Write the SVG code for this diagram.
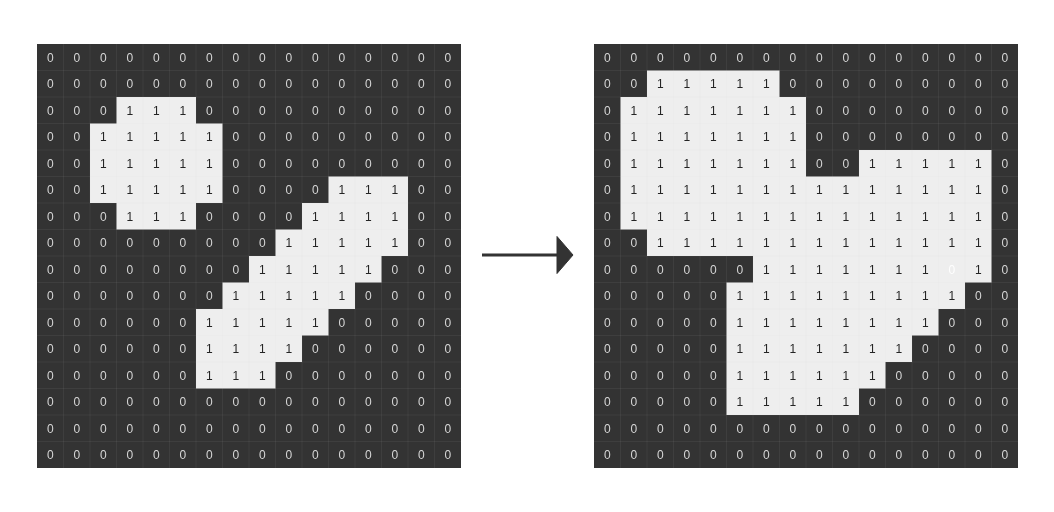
<svg xmlns="http://www.w3.org/2000/svg" width="1054" height="512" viewBox="0 0 1054 512" style="will-change:transform">
<style>
.bg{fill:#333333}
.lt{fill:#eeeeee}
.gl{fill:none;stroke:#d0d0d0;stroke-opacity:0.07;stroke-width:1}
text{font-family:"Liberation Sans",Arial,sans-serif;font-size:12px;text-anchor:middle}
.txt{opacity:0.99}
.z{fill:#d8d8d8}
.o{fill:#222222}
.w{fill:#ffffff}
</style>
<defs>
<path id="lines" class="gl" d="M63.5 44V468M90 44V468M116.5 44V468M143 44V468M169.5 44V468M196 44V468M222.5 44V468M249 44V468M275.5 44V468M302 44V468M328.5 44V468M355 44V468M381.5 44V468M408 44V468M434.5 44V468M37 70.5H461M37 97H461M37 123.5H461M37 150H461M37 176.5H461M37 203H461M37 229.5H461M37 256H461M37 282.5H461M37 309H461M37 335.5H461M37 362H461M37 388.5H461M37 415H461M37 441.5H461"/>
</defs>
<rect width="1054" height="512" fill="#ffffff"/>
<g id="grid-input">
<rect class="bg" x="37" y="44" width="424" height="424"/>
<path class="lt" d="M116.5 97h79.5v26.5h-79.5Z M90 123.5h132.5v26.5h-132.5Z M90 150h132.5v26.5h-132.5Z M90 176.5h132.5v26.5h-132.5Z M328.5 176.5h79.5v26.5h-79.5Z M116.5 203h79.5v26.5h-79.5Z M302 203h106v26.5h-106Z M275.5 229.5h132.5v26.5h-132.5Z M249 256h132.5v26.5h-132.5Z M222.5 282.5h132.5v26.5h-132.5Z M196 309h132.5v26.5h-132.5Z M196 335.5h106v26.5h-106Z M196 362h79.5v26.5h-79.5Z"/>
<use href="#lines"/>
<g class="txt">
<text x="50.25 76.75 103.25 129.75 156.25 182.75 209.25 235.75 262.25 288.75 315.25 341.75 368.25 394.75 421.25 447.75" y="61.5"><tspan class="z">0000000000000000</tspan></text>
<text x="50.25 76.75 103.25 129.75 156.25 182.75 209.25 235.75 262.25 288.75 315.25 341.75 368.25 394.75 421.25 447.75" y="88"><tspan class="z">0000000000000000</tspan></text>
<text x="50.25 76.75 103.25 129.75 156.25 182.75 209.25 235.75 262.25 288.75 315.25 341.75 368.25 394.75 421.25 447.75" y="114.5"><tspan class="z">000</tspan><tspan class="o">111</tspan><tspan class="z">0000000000</tspan></text>
<text x="50.25 76.75 103.25 129.75 156.25 182.75 209.25 235.75 262.25 288.75 315.25 341.75 368.25 394.75 421.25 447.75" y="141"><tspan class="z">00</tspan><tspan class="o">11111</tspan><tspan class="z">000000000</tspan></text>
<text x="50.25 76.75 103.25 129.75 156.25 182.75 209.25 235.75 262.25 288.75 315.25 341.75 368.25 394.75 421.25 447.75" y="167.5"><tspan class="z">00</tspan><tspan class="o">11111</tspan><tspan class="z">000000000</tspan></text>
<text x="50.25 76.75 103.25 129.75 156.25 182.75 209.25 235.75 262.25 288.75 315.25 341.75 368.25 394.75 421.25 447.75" y="194"><tspan class="z">00</tspan><tspan class="o">11111</tspan><tspan class="z">0000</tspan><tspan class="o">111</tspan><tspan class="z">00</tspan></text>
<text x="50.25 76.75 103.25 129.75 156.25 182.75 209.25 235.75 262.25 288.75 315.25 341.75 368.25 394.75 421.25 447.75" y="220.5"><tspan class="z">000</tspan><tspan class="o">111</tspan><tspan class="z">0000</tspan><tspan class="o">1111</tspan><tspan class="z">00</tspan></text>
<text x="50.25 76.75 103.25 129.75 156.25 182.75 209.25 235.75 262.25 288.75 315.25 341.75 368.25 394.75 421.25 447.75" y="247"><tspan class="z">000000000</tspan><tspan class="o">11111</tspan><tspan class="z">00</tspan></text>
<text x="50.25 76.75 103.25 129.75 156.25 182.75 209.25 235.75 262.25 288.75 315.25 341.75 368.25 394.75 421.25 447.75" y="273.5"><tspan class="z">00000000</tspan><tspan class="o">11111</tspan><tspan class="z">000</tspan></text>
<text x="50.25 76.75 103.25 129.75 156.25 182.75 209.25 235.75 262.25 288.75 315.25 341.75 368.25 394.75 421.25 447.75" y="300"><tspan class="z">0000000</tspan><tspan class="o">11111</tspan><tspan class="z">0000</tspan></text>
<text x="50.25 76.75 103.25 129.75 156.25 182.75 209.25 235.75 262.25 288.75 315.25 341.75 368.25 394.75 421.25 447.75" y="326.5"><tspan class="z">000000</tspan><tspan class="o">11111</tspan><tspan class="z">00000</tspan></text>
<text x="50.25 76.75 103.25 129.75 156.25 182.75 209.25 235.75 262.25 288.75 315.25 341.75 368.25 394.75 421.25 447.75" y="353"><tspan class="z">000000</tspan><tspan class="o">1111</tspan><tspan class="z">000000</tspan></text>
<text x="50.25 76.75 103.25 129.75 156.25 182.75 209.25 235.75 262.25 288.75 315.25 341.75 368.25 394.75 421.25 447.75" y="379.5"><tspan class="z">000000</tspan><tspan class="o">111</tspan><tspan class="z">0000000</tspan></text>
<text x="50.25 76.75 103.25 129.75 156.25 182.75 209.25 235.75 262.25 288.75 315.25 341.75 368.25 394.75 421.25 447.75" y="406"><tspan class="z">0000000000000000</tspan></text>
<text x="50.25 76.75 103.25 129.75 156.25 182.75 209.25 235.75 262.25 288.75 315.25 341.75 368.25 394.75 421.25 447.75" y="432.5"><tspan class="z">0000000000000000</tspan></text>
<text x="50.25 76.75 103.25 129.75 156.25 182.75 209.25 235.75 262.25 288.75 315.25 341.75 368.25 394.75 421.25 447.75" y="459"><tspan class="z">0000000000000000</tspan></text>
</g>
</g>
<g id="connectors">
<line x1="482" y1="255" x2="560" y2="255" stroke="#333333" stroke-width="3"/>
<path d="M557 236.5L573 255L557 273.5Z" fill="#333333" stroke="#333333" stroke-width="1" stroke-linejoin="round"/>
</g>
<g id="grid-output" transform="translate(557,0)">
<rect class="bg" x="37" y="44" width="424" height="424"/>
<path class="lt" d="M90 70.5h132.5v26.5h-132.5Z M63.5 97h185.5v26.5h-185.5Z M63.5 123.5h185.5v26.5h-185.5Z M63.5 150h185.5v26.5h-185.5Z M302 150h132.5v26.5h-132.5Z M63.5 176.5h371v26.5h-371Z M63.5 203h371v26.5h-371Z M90 229.5h344.5v26.5h-344.5Z M196 256h238.5v26.5h-238.5Z M169.5 282.5h238.5v26.5h-238.5Z M169.5 309h212v26.5h-212Z M169.5 335.5h185.5v26.5h-185.5Z M169.5 362h159v26.5h-159Z M169.5 388.5h132.5v26.5h-132.5Z"/>
<use href="#lines"/>
<g class="txt">
<text x="50.25 76.75 103.25 129.75 156.25 182.75 209.25 235.75 262.25 288.75 315.25 341.75 368.25 394.75 421.25 447.75" y="61.5"><tspan class="z">0000000000000000</tspan></text>
<text x="50.25 76.75 103.25 129.75 156.25 182.75 209.25 235.75 262.25 288.75 315.25 341.75 368.25 394.75 421.25 447.75" y="88"><tspan class="z">00</tspan><tspan class="o">11111</tspan><tspan class="z">000000000</tspan></text>
<text x="50.25 76.75 103.25 129.75 156.25 182.75 209.25 235.75 262.25 288.75 315.25 341.75 368.25 394.75 421.25 447.75" y="114.5"><tspan class="z">0</tspan><tspan class="o">1111111</tspan><tspan class="z">00000000</tspan></text>
<text x="50.25 76.75 103.25 129.75 156.25 182.75 209.25 235.75 262.25 288.75 315.25 341.75 368.25 394.75 421.25 447.75" y="141"><tspan class="z">0</tspan><tspan class="o">1111111</tspan><tspan class="z">00000000</tspan></text>
<text x="50.25 76.75 103.25 129.75 156.25 182.75 209.25 235.75 262.25 288.75 315.25 341.75 368.25 394.75 421.25 447.75" y="167.5"><tspan class="z">0</tspan><tspan class="o">1111111</tspan><tspan class="z">00</tspan><tspan class="o">11111</tspan><tspan class="z">0</tspan></text>
<text x="50.25 76.75 103.25 129.75 156.25 182.75 209.25 235.75 262.25 288.75 315.25 341.75 368.25 394.75 421.25 447.75" y="194"><tspan class="z">0</tspan><tspan class="o">11111111111111</tspan><tspan class="z">0</tspan></text>
<text x="50.25 76.75 103.25 129.75 156.25 182.75 209.25 235.75 262.25 288.75 315.25 341.75 368.25 394.75 421.25 447.75" y="220.5"><tspan class="z">0</tspan><tspan class="o">11111111111111</tspan><tspan class="z">0</tspan></text>
<text x="50.25 76.75 103.25 129.75 156.25 182.75 209.25 235.75 262.25 288.75 315.25 341.75 368.25 394.75 421.25 447.75" y="247"><tspan class="z">00</tspan><tspan class="o">1111111111111</tspan><tspan class="z">0</tspan></text>
<text x="50.25 76.75 103.25 129.75 156.25 182.75 209.25 235.75 262.25 288.75 315.25 341.75 368.25 394.75 421.25 447.75" y="273.5"><tspan class="z">000000</tspan><tspan class="o">1111111</tspan><tspan class="w">0</tspan><tspan class="o">1</tspan><tspan class="z">0</tspan></text>
<text x="50.25 76.75 103.25 129.75 156.25 182.75 209.25 235.75 262.25 288.75 315.25 341.75 368.25 394.75 421.25 447.75" y="300"><tspan class="z">00000</tspan><tspan class="o">111111111</tspan><tspan class="z">00</tspan></text>
<text x="50.25 76.75 103.25 129.75 156.25 182.75 209.25 235.75 262.25 288.75 315.25 341.75 368.25 394.75 421.25 447.75" y="326.5"><tspan class="z">00000</tspan><tspan class="o">11111111</tspan><tspan class="z">000</tspan></text>
<text x="50.25 76.75 103.25 129.75 156.25 182.75 209.25 235.75 262.25 288.75 315.25 341.75 368.25 394.75 421.25 447.75" y="353"><tspan class="z">00000</tspan><tspan class="o">1111111</tspan><tspan class="z">0000</tspan></text>
<text x="50.25 76.75 103.25 129.75 156.25 182.75 209.25 235.75 262.25 288.75 315.25 341.75 368.25 394.75 421.25 447.75" y="379.5"><tspan class="z">00000</tspan><tspan class="o">111111</tspan><tspan class="z">00000</tspan></text>
<text x="50.25 76.75 103.25 129.75 156.25 182.75 209.25 235.75 262.25 288.75 315.25 341.75 368.25 394.75 421.25 447.75" y="406"><tspan class="z">00000</tspan><tspan class="o">11111</tspan><tspan class="z">000000</tspan></text>
<text x="50.25 76.75 103.25 129.75 156.25 182.75 209.25 235.75 262.25 288.75 315.25 341.75 368.25 394.75 421.25 447.75" y="432.5"><tspan class="z">0000000000000000</tspan></text>
<text x="50.25 76.75 103.25 129.75 156.25 182.75 209.25 235.75 262.25 288.75 315.25 341.75 368.25 394.75 421.25 447.75" y="459"><tspan class="z">0000000000000000</tspan></text>
</g>
</g>
</svg>
